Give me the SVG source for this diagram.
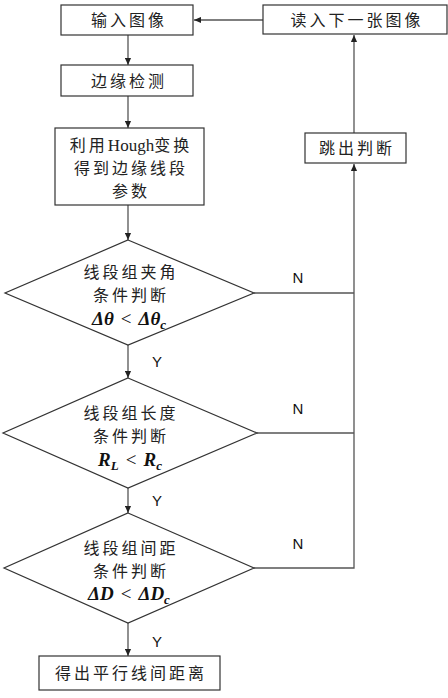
<svg xmlns="http://www.w3.org/2000/svg" width="448" height="698" viewBox="0 0 448 698">
<style>
.box{fill:#fff;stroke:#333;stroke-width:1.2}
.cn{font-family:"Noto Sans CJK SC",sans-serif;font-size:16px;fill:#222;text-anchor:middle;letter-spacing:3px}
.lat{font-family:"Liberation Sans",Arial,sans-serif;font-size:15px;fill:#111}
.math{font-family:"Liberation Serif",serif;font-size:19px;font-weight:bold;font-style:italic;fill:#111;text-anchor:middle}
.op{font-weight:normal;font-style:normal}
.ln{fill:none;stroke:#555;stroke-width:1.3}
</style>
<defs>
<marker id="ah" viewBox="0 0 8 8" refX="8" refY="4" markerWidth="7" markerHeight="7" markerUnits="userSpaceOnUse" orient="auto">
<path d="M0,0.5 L8,4 L0,7.5 Z" fill="#222"/>
</marker>
</defs>
<g id="connectors">
<line class="ln" x1="263" y1="20" x2="194" y2="20" marker-end="url(#ah)"/>
<line class="ln" x1="128" y1="35" x2="128" y2="65" marker-end="url(#ah)"/>
<line class="ln" x1="128" y1="96" x2="128" y2="128" marker-end="url(#ah)"/>
<line class="ln" x1="128" y1="205" x2="128" y2="240" marker-end="url(#ah)"/>
<line class="ln" x1="128" y1="345" x2="128" y2="378" marker-end="url(#ah)"/>
<line class="ln" x1="128" y1="488" x2="128" y2="513" marker-end="url(#ah)"/>
<line class="ln" x1="128" y1="623" x2="128" y2="656" marker-end="url(#ah)"/>
<line class="ln" x1="254" y1="293" x2="354" y2="293"/>
<line class="ln" x1="257" y1="433" x2="354" y2="433"/>
<polyline class="ln" points="254,568 354,568 354,164" marker-end="url(#ah)"/>
<line class="ln" x1="354" y1="133" x2="354" y2="35" marker-end="url(#ah)"/>
<text class="lat" x="298" y="283" text-anchor="middle">N</text>
<text class="lat" x="298" y="414" text-anchor="middle">N</text>
<text class="lat" x="298" y="549" text-anchor="middle">N</text>
<text class="lat" x="157" y="367" text-anchor="middle">Y</text>
<text class="lat" x="157" y="506" text-anchor="middle">Y</text>
<text class="lat" x="157" y="647" text-anchor="middle">Y</text>
</g>
<g id="n_input">
<rect class="box" x="61" y="5" width="132" height="30"/>
<text class="cn" x="129" y="26">输入图像</text>
</g>
<g id="n_next">
<rect class="box" x="263" y="5" width="184" height="29"/>
<text class="cn" x="357" y="26">读入下一张图像</text>
</g>
<g id="n_edge">
<rect class="box" x="61" y="65" width="132" height="31"/>
<text class="cn" x="129" y="87">边缘检测</text>
</g>
<g id="n_hough">
<rect class="box" x="55" y="128" width="149" height="77"/>
<text class="cn" x="131" y="151">利用<tspan font-family="Liberation Serif" font-size="17" letter-spacing="0">Hough</tspan>变换</text>
<text class="cn" x="131" y="174">得到边缘线段</text>
<text class="cn" x="131" y="197">参数</text>
</g>
<g id="n_jump">
<rect class="box" x="305" y="133" width="101" height="30"/>
<text class="cn" x="357" y="154">跳出判断</text>
</g>
<g id="n_d1">
<polygon class="box" points="128,240 254,293 128,345 5,293"/>
<text class="cn" x="131" y="278">线段组夹角</text>
<text class="cn" x="131" y="301">条件判断</text>
<text class="math" x="129" y="325">Δθ<tspan class="op" dx="7">&lt;</tspan><tspan dx="7">Δθ</tspan><tspan font-size="13" dy="4">c</tspan></text>
</g>
<g id="n_d2">
<polygon class="box" points="128,378 257,433 128,488 3,433"/>
<text class="cn" x="131" y="419">线段组长度</text>
<text class="cn" x="131" y="442">条件判断</text>
<text class="math" x="130" y="466">R<tspan font-size="13" dy="4">L</tspan><tspan class="op" dx="7" dy="-4">&lt;</tspan><tspan dx="7">R</tspan><tspan font-size="13" dy="4">c</tspan></text>
</g>
<g id="n_d3">
<polygon class="box" points="128,513 254,568 128,623 4,568"/>
<text class="cn" x="131" y="554">线段组间距</text>
<text class="cn" x="131" y="577">条件判断</text>
<text class="math" x="129" y="600">ΔD<tspan class="op" dx="7">&lt;</tspan><tspan dx="7">ΔD</tspan><tspan font-size="13" dy="4">c</tspan></text>
</g>
<g id="n_result">
<rect class="box" x="39" y="656" width="181" height="34"/>
<text class="cn" x="131" y="679">得出平行线间距离</text>
</g>
</svg>
